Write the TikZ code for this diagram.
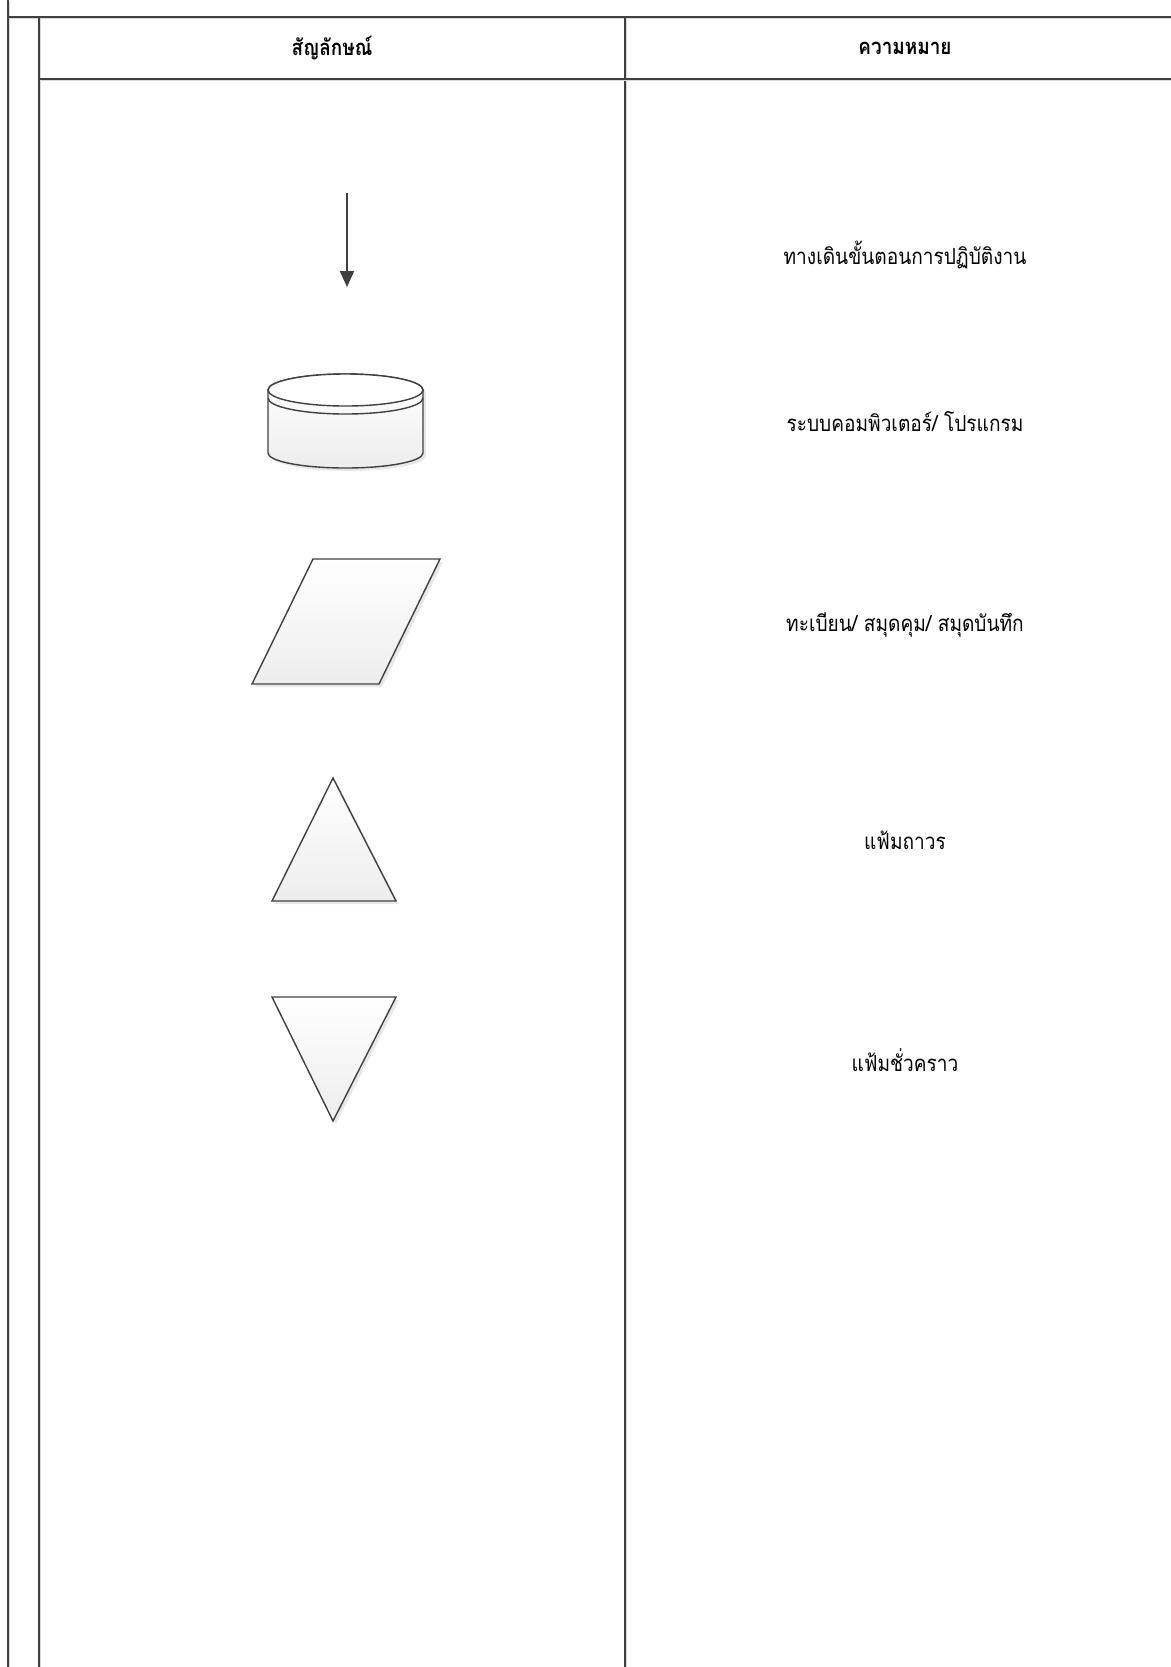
\documentclass[tikz,border=0pt]{standalone}
\usepackage{fontspec}
\usepackage{graphicx}
\newfontfamily\thaifont[Script=Thai]{Loma}
\usetikzlibrary{arrows.meta,shadows}
\newcommand{\narrow}[1]{\scalebox{0.86}[1]{#1}}
\tikzstyle{tableline}=[draw=black!75,line width=1pt]
\tikzstyle{tableshade}=[draw=black!15,line width=0.8pt]
\tikzstyle{symbol}=[draw=black!75,line width=0.7pt,top color=white,bottom color=black!7,
    drop shadow={opacity=0.18,shadow xshift=1.5pt,shadow yshift=-1.5pt}]
\tikzstyle{flow} = [draw=black!75,line width=1pt,-{Triangle[length=8pt,width=7pt]}]
\tikzstyle{head}=[font=\thaifont\bfseries\fontsize{11}{13}\selectfont]
\tikzstyle{meaning}=[font=\thaifont\fontsize{11.1}{13}\selectfont]

\begin{document}
\begin{tikzpicture}[x=0.5pt,y=0.5pt]
    \useasboundingbox (0,0) rectangle (1171,-1667);

    % table frame
    \foreach \xa/\ya/\xb/\yb in {8/0/8/-1667, 8/-17/1171/-17, 39/-17/39/-1667,
                                 625/-17/625/-1667, 39/-79/1171/-79}
    {
        \path[tableshade] (\xa+1.5,\ya-1.5) -- (\xb+1.5,\yb-1.5);
        \path[tableline] (\xa,\ya) -- (\xb,\yb);
    }

    \node[head] (symhead) at (332,-48) {\narrow{สัญลักษณ์}};
    \node[head] (meanhead) at (905,-48) {\narrow{ความหมาย}};

    % flow arrow
    \coordinate (flowtop) at (347,-193);
    \coordinate (flowtip) at (347,-287);
    \path[flow] (flowtop) -- (flowtip);

    % computer system
    \path[symbol] (268,-390) -- (268,-453) arc[start angle=180,end angle=360,x radius=77.5,y radius=15]
        -- (423,-390) arc[start angle=0,end angle=180,x radius=77.5,y radius=16] -- cycle;
    \draw[draw=black!75,line width=0.7pt,fill=white] (345.5,-390) ellipse[x radius=77.5,y radius=16];
    \draw[draw=black!75,line width=0.7pt] (268,-398) arc[start angle=180,end angle=360,x radius=77.5,y radius=16];

    % register / notebook
    \path[symbol] (313,-559) -- (440,-559) -- (379,-684) -- (252,-684) -- cycle;

    % permanent file
    \path[symbol] (333,-778) -- (396,-901) -- (272,-901) -- cycle;

    % temporary file
    \path[symbol] (272,-997) -- (396,-997) -- (333,-1121) -- cycle;

    \foreach \y/\name/\txt in {255/walk/{ทางเดินขั้นตอนการปฏิบัติงาน}, 422/comp/{ระบบคอมพิวเตอร์/ โปรแกรม},
        625/book/{ทะเบียน/ สมุดคุม/ สมุดบันทึก}, 840/perm/{แฟ้มถาวร}, 1060/temp/{แฟ้มชั่วคราว}}
        \node[meaning] (\name) at (905,-\y) {\narrow{\txt}};

\end{tikzpicture}
\end{document}
